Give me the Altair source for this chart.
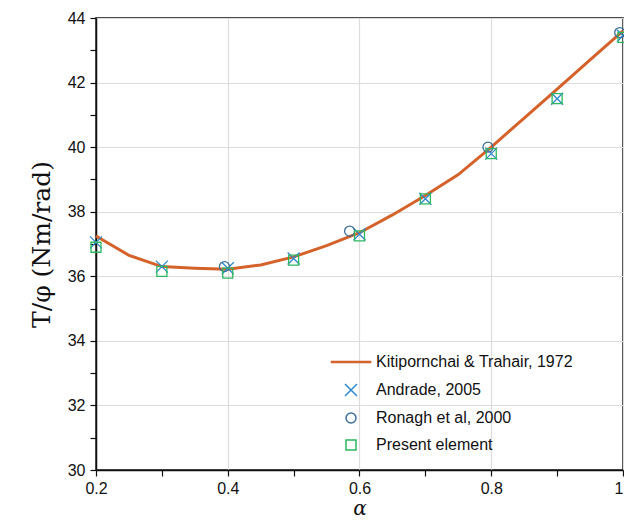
import altair as alt
import pandas as pd

# Kitipornchai & Trahair, 1972 (line)
line_alpha = [0.2, 0.25, 0.3, 0.35, 0.4, 0.45, 0.5, 0.55, 0.6, 0.65, 0.7, 0.75, 0.8, 0.85, 0.9, 0.95, 1.0]
line_T = [37.25, 36.65, 36.3, 36.25, 36.22, 36.35, 36.6, 36.95, 37.35, 37.9, 38.5, 39.15, 40.0, 40.9, 41.8, 42.7, 43.6]

# Andrade, 2005
andrade_alpha = [0.2, 0.3, 0.4, 0.5, 0.6, 0.7, 0.8, 0.9, 1.0]
andrade_T = [37.05, 36.3, 36.25, 36.55, 37.3, 38.4, 39.8, 41.5, 43.45]

# Ronagh et al, 2000
ronagh_alpha = [0.395, 0.585, 0.795, 0.995]
ronagh_T = [36.3, 37.4, 40.0, 43.55]

# Present element
present_alpha = [0.2, 0.3, 0.4, 0.5, 0.6, 0.7, 0.8, 0.9, 1.0]
present_T = [36.9, 36.15, 36.1, 36.5, 37.25, 38.4, 39.8, 41.5, 43.4]

series_names = ["Kitipornchai & Trahair, 1972", "Andrade, 2005", "Ronagh et al, 2000", "Present element"]
series_colors = ["#D4622A", "#2F88CC", "#3D6F98", "#2DB860"]
line_symbol = "M-3.9,-0.12L3.9,-0.12L3.9,0.12L-3.9,0.12Z"
cross_symbol = "M-1.2,-1.2L1.2,1.2M-1.2,1.2L1.2,-1.2"
series_shapes = [line_symbol, cross_symbol, "circle", "square"]

x_ticks = [0.2, 0.3, 0.4, 0.5, 0.6, 0.7, 0.8, 0.9, 1.0]
y_ticks = list(range(30, 45))

line_df = pd.DataFrame({"alpha": line_alpha, "T": line_T, "series": series_names[0]})
pts_df = pd.concat([
    pd.DataFrame({"alpha": andrade_alpha, "T": andrade_T, "series": series_names[1]}),
    pd.DataFrame({"alpha": ronagh_alpha, "T": ronagh_T, "series": series_names[2]}),
    pd.DataFrame({"alpha": present_alpha, "T": present_T, "series": series_names[3]}),
])

x_enc = alt.X(
    "alpha:Q",
    scale=alt.Scale(domain=[0.2, 1.0], nice=False, zero=False),
    axis=alt.Axis(
        values=x_ticks,
        format="~g",
        labelFlush=False,
        labelPadding=4,
        labelAlign={"condition": {"test": "datum.value >= 0.99", "value": "right"}, "value": "center"},
        labelExpr="round(datum.value*10) % 2 == 0 ? datum.label : ''",
        gridOpacity={"condition": {"test": "round(datum.value*10) % 2 == 0", "value": 1}, "value": 0},
        title="α",
        titleFont="DejaVu Serif",
        titleFontStyle="italic",
        titleFontWeight="normal",
        titleFontSize=20,
        titlePadding=2,
    ),
)
y_enc = alt.Y(
    "T:Q",
    scale=alt.Scale(domain=[30, 44], nice=False, zero=False),
    axis=alt.Axis(
        values=y_ticks,
        labelFlush=False,
        labelPadding=5,
        labelExpr="datum.value % 2 == 0 ? datum.label : ''",
        gridOpacity={"condition": {"test": "datum.value % 2 == 0", "value": 1}, "value": 0},
        title="T/φ (Nm/rad)",
        titleFont="DejaVu Serif",
        titleFontWeight="normal",
        titleFontSize=25,
        titlePadding=13,
    ),
)

color_scale = alt.Scale(domain=series_names, range=series_colors)
shape_scale = alt.Scale(domain=series_names, range=series_shapes)

legend_kw = dict(
    title=None, orient="none", legendX=247, legendY=336,
    labelFontSize=16, labelFont="Liberation Sans", labelColor="#111", labelLimit=400,
    symbolSize=100, symbolStrokeWidth=1.5, labelOffset=17, rowPadding=11,
    padding=0,
)

line = alt.Chart(line_df).mark_line(strokeWidth=3, color=series_colors[0]).encode(
    x=x_enc, y=y_enc, detail="series:N"
)

points = alt.Chart(pts_df).mark_point(filled=False, size=100, strokeWidth=1.3, opacity=1).encode(
    x=x_enc,
    y=y_enc,
    color=alt.Color("series:N", scale=color_scale, legend=alt.Legend(**legend_kw)),
    shape=alt.Shape("series:N", scale=shape_scale, legend=alt.Legend(**legend_kw)),
)

chart = alt.layer(line, points).properties(
    width=527, height=452,
    autosize=alt.AutoSizeParams(type="none"),
    padding={"left": 88, "top": 10, "right": 1, "bottom": 49},
).configure_view(
    stroke="#111", strokeWidth=1.5
).configure_axis(
    domainColor="#111", domainWidth=1.5,
    tickColor="#111", tickWidth=1.2, tickSize=6,
    gridColor="#dcdcdc", gridWidth=1.2,
    labelFont="Liberation Sans", labelFontSize=16, labelColor="#111",
    titleColor="#111",
)

chart.save("out.html", embed_options={"renderer": "svg", "actions": False})
